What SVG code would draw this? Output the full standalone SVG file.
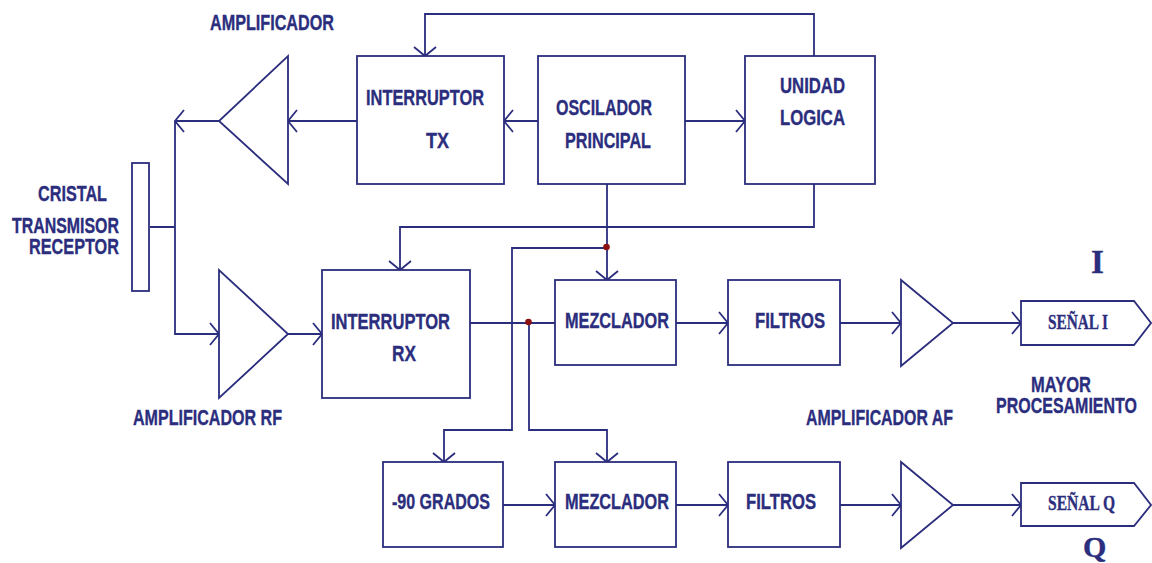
<svg xmlns="http://www.w3.org/2000/svg" width="1152" height="563" viewBox="0 0 1152 563">
<style>
.s{fill:none;stroke:#2b2d7d;stroke-width:1.8;stroke-linejoin:miter}
.n{fill:#fff;stroke:#2b2d7d;stroke-width:1.8}
text{font-family:"Liberation Sans",Arial,sans-serif;font-weight:bold;font-size:22px;fill:#2b2d7d;stroke:#2b2d7d;stroke-width:.35}
.t{font-family:"Liberation Serif","Times New Roman",serif;font-size:21px}
.b{font-family:"Liberation Serif","Times New Roman",serif;font-size:33px}
.c{font-size:30px}
</style>
<defs><marker id="a" markerUnits="userSpaceOnUse" markerWidth="13" markerHeight="26" refX="10" refY="13" orient="auto"><path d="M1 2L10 13L1 24" fill="none" stroke="#2b2d7d" stroke-width="1.8"/></marker></defs>
<rect width="1152" height="563" fill="#fff"/>
<g id="connectors" class="s">
<path d="M814 56V14H425V56" marker-end="url(#a)"/>
<path d="M357 121H288" marker-end="url(#a)"/>
<path d="M538 121H504" marker-end="url(#a)"/>
<path d="M685 121H745" marker-end="url(#a)"/>
<path d="M219 121H175" marker-end="url(#a)"/>
<path d="M150 227H175M175 121V334H219" marker-end="url(#a)"/>
<path d="M288 334H322" marker-end="url(#a)"/>
<path d="M814 184V227H400V270" marker-end="url(#a)"/>
<path d="M607 184V280" marker-end="url(#a)"/>
<path d="M607 248H512V430H444V462" marker-end="url(#a)"/>
<path d="M470 323H555"/>
<path d="M529 322V430H607V462" marker-end="url(#a)"/>
<path d="M676 323H728" marker-end="url(#a)"/>
<path d="M840 323H901" marker-end="url(#a)"/>
<path d="M953 323H1021" marker-end="url(#a)"/>
<path d="M503 505H555" marker-end="url(#a)"/>
<path d="M676 505H728" marker-end="url(#a)"/>
<path d="M840 505H901" marker-end="url(#a)"/>
<path d="M953 505H1021" marker-end="url(#a)"/>
<circle cx="606.500" cy="247" r="3.300" fill="#8b1010" stroke="none"/>
<circle cx="528.500" cy="322" r="3.300" fill="#8b1010" stroke="none"/>
</g>
<g id="cristal"><rect class="n" x="132" y="163" width="17" height="128"/><text x="38" y="201" textLength="69" lengthAdjust="spacingAndGlyphs">CRISTAL</text><text x="12" y="233" textLength="107" lengthAdjust="spacingAndGlyphs">TRANSMISOR</text><text x="29" y="254" textLength="90" lengthAdjust="spacingAndGlyphs">RECEPTOR</text></g>
<g id="amp-tx"><path class="n" d="M288 56V184L219 121Z"/><text x="210" y="30" textLength="124" lengthAdjust="spacingAndGlyphs">AMPLIFICADOR</text></g>
<g id="interruptor-tx"><rect class="n" x="357" y="56" width="147" height="128"/><text x="366" y="105" textLength="118" lengthAdjust="spacingAndGlyphs">INTERRUPTOR</text><text x="426" y="148" textLength="23" lengthAdjust="spacingAndGlyphs">TX</text></g>
<g id="oscilador"><rect class="n" x="538" y="56" width="147" height="128"/><text x="556" y="115" textLength="96" lengthAdjust="spacingAndGlyphs">OSCILADOR</text><text x="565" y="148" textLength="86" lengthAdjust="spacingAndGlyphs">PRINCIPAL</text></g>
<g id="unidad"><rect class="n" x="745" y="56" width="130" height="128"/><text x="780" y="93" textLength="65" lengthAdjust="spacingAndGlyphs">UNIDAD</text><text x="780" y="125" textLength="65" lengthAdjust="spacingAndGlyphs">LOGICA</text></g>
<g id="amp-rf"><path class="n" d="M219 270V398L288 334Z"/><text x="133" y="425" textLength="149" lengthAdjust="spacingAndGlyphs">AMPLIFICADOR RF</text></g>
<g id="interruptor-rx"><rect class="n" x="322" y="270" width="148" height="128"/><text x="331" y="329" textLength="119" lengthAdjust="spacingAndGlyphs">INTERRUPTOR</text><text x="392" y="361" textLength="24" lengthAdjust="spacingAndGlyphs">RX</text></g>
<g id="mezclador-i"><rect class="n" x="555" y="280" width="121" height="85"/><text x="565" y="328" textLength="104" lengthAdjust="spacingAndGlyphs">MEZCLADOR</text></g>
<g id="filtros-i"><rect class="n" x="728" y="280" width="112" height="85"/><text x="755" y="328" textLength="70" lengthAdjust="spacingAndGlyphs">FILTROS</text></g>
<g id="amp-i"><path class="n" d="M901 280V366L953 323Z"/></g>
<g id="senal-i"><path class="n" d="M1021 301H1134L1151 323L1134 345H1021Z"/><text class="t" x="1048" y="329" textLength="60" lengthAdjust="spacingAndGlyphs">SEÑAL I</text></g>
<g id="grados"><rect class="n" x="383" y="462" width="120" height="85"/><text x="392" y="509" textLength="98" lengthAdjust="spacingAndGlyphs">-90 GRADOS</text></g>
<g id="mezclador-q"><rect class="n" x="555" y="462" width="121" height="85"/><text x="565" y="509" textLength="104" lengthAdjust="spacingAndGlyphs">MEZCLADOR</text></g>
<g id="filtros-q"><rect class="n" x="728" y="462" width="112" height="85"/><text x="746" y="509" textLength="70" lengthAdjust="spacingAndGlyphs">FILTROS</text></g>
<g id="amp-q"><path class="n" d="M901 462V548L953 505Z"/><text x="806" y="425" textLength="147" lengthAdjust="spacingAndGlyphs">AMPLIFICADOR AF</text></g>
<g id="senal-q"><path class="n" d="M1021 483H1134L1151 505L1134 526H1021Z"/><text class="t" x="1048" y="510" textLength="67" lengthAdjust="spacingAndGlyphs">SEÑAL Q</text></g>
<g id="labels"><text x="1031" y="392" textLength="60" lengthAdjust="spacingAndGlyphs">MAYOR</text><text x="996" y="413" textLength="141" lengthAdjust="spacingAndGlyphs">PROCESAMIENTO</text><text class="b" x="1091" y="273">I</text><text class="b c" x="1083" y="557" style="font-size:30px">Q</text></g>
</svg>
